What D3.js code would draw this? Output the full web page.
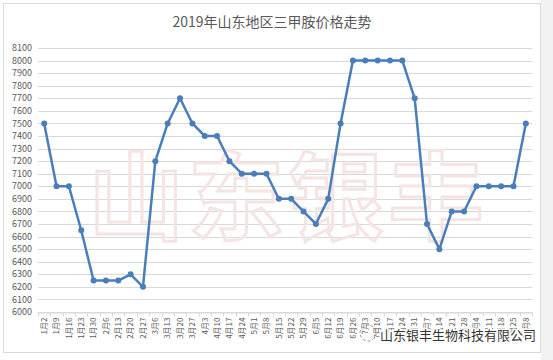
<!DOCTYPE html>
<html>
<head>
<meta charset="utf-8">
<script src="https://cdn.jsdelivr.net/npm/d3@7"></script>
<style>
  html, body { margin: 0; padding: 0; background: #fff; }
  svg { display: block; font-family: "Noto Sans CJK SC", "Microsoft YaHei", sans-serif; }
</style>
</head>
<body>
<div id="chart"></div>
<script>
var dates = ['1月2','1月9','1月16','1月23','1月30','2月6','2月13','2月20','2月27','3月6',
  '3月13','3月20','3月27','4月3','4月10','4月17','4月24','5月1','5月8','5月15',
  '5月22','5月29','6月5','6月12','6月19','6月26','7月3','7月10','7月17','7月24',
  '7月31','8月7','8月14','8月21','8月28','9月4','9月11','9月18','9月25','10月8'];
var prices = [7500,7000,7000,6650,6250,6250,6250,6300,6200,7200,
  7500,7700,7500,7400,7400,7200,7100,7100,7100,6900,
  6900,6800,6700,6900,7500,8000,8000,8000,8000,8000,
  7700,6700,6500,6800,6800,7000,7000,7000,7000,7500];
var yTicks = d3.range(6000, 8101, 100);

var W = 553, H = 360;
var margin = { top: 48, right: 19, bottom: 48, left: 38 };

var svg = d3.select('#chart').append('svg')
  .attr('width', W).attr('height', H);

// panel background
svg.append('rect').attr('x', 541).attr('y', 0).attr('width', 12).attr('height', H).attr('fill', '#f2f2f2');
svg.append('rect').attr('x', 3.5).attr('y', 3.5).attr('width', 537).attr('height', 349)
  .attr('fill', '#fff').attr('stroke', '#d9d9d9');

var x = d3.scaleBand().domain(dates).range([margin.left, W - margin.right - 2]);
var y = d3.scaleLinear().domain([6000, 8100]).range([312, margin.top]);

// gridlines
svg.append('g').selectAll('line').data(yTicks).join('line')
  .attr('x1', margin.left).attr('x2', W - margin.right - 2)
  .attr('y1', function (d) { return Math.round(y(d)) + 0.5; })
  .attr('y2', function (d) { return Math.round(y(d)) + 0.5; })
  .attr('stroke', '#d9d9d9');

// watermark
svg.append('text')
  .attr('x', 288).attr('y', 232)
  .attr('text-anchor', 'middle')
  .attr('font-size', 96)
  .attr('font-weight', 'bold')
  .attr('letter-spacing', 4)
  .attr('fill', 'none')
  .attr('stroke', '#f5e4e4')
  .attr('stroke-width', 3)
  .text('山东银丰');

// y axis labels
svg.append('g').selectAll('text').data(yTicks).join('text')
  .attr('x', 32).attr('y', function (d) { return y(d); })
  .attr('dy', '0.35em')
  .attr('text-anchor', 'end')
  .attr('font-size', 9)
  .attr('fill', '#595959')
  .text(function (d) { return d; });

// x axis
var xAxis = d3.axisBottom(x).tickSize(0).tickPadding(0);
var gx = svg.append('g').attr('transform', 'translate(0,' + (Math.round(y(6000)) + 0.5) + ')').call(xAxis);
gx.select('.domain').attr('stroke', '#d9d9d9');
gx.selectAll('.tick text')
  .attr('transform', 'translate(0,5) rotate(-90)')
  .attr('text-anchor', 'end')
  .attr('dy', '0.35em')
  .attr('x', 0).attr('y', 0)
  .attr('font-size', 8)
  .attr('font-family', '"Noto Sans CJK SC", sans-serif')
  .attr('fill', '#595959');
gx.selectAll('.bnd').data(dates.concat(['_end'])).join('line')
  .attr('class', 'bnd')
  .attr('x1', function (d, i) { return Math.round(margin.left + i * x.step()) + 0.5; })
  .attr('x2', function (d, i) { return Math.round(margin.left + i * x.step()) + 0.5; })
  .attr('y1', 0).attr('y2', 4)
  .attr('stroke', '#d9d9d9');

// line
var line = d3.line()
  .x(function (d, i) { return x(dates[i]) + x.bandwidth() / 2; })
  .y(function (d) { return y(d); });

svg.append('path').datum(prices)
  .attr('d', line)
  .attr('fill', 'none')
  .attr('stroke', '#4a7ebb')
  .attr('stroke-width', 2.5)
  .attr('stroke-linejoin', 'round');

svg.append('g').selectAll('circle').data(prices).join('circle')
  .attr('cx', function (d, i) { return x(dates[i]) + x.bandwidth() / 2; })
  .attr('cy', function (d) { return y(d); })
  .attr('r', 3)
  .attr('fill', '#4a7ebb');

// title
svg.append('text')
  .attr('x', 272).attr('y', 27)
  .attr('text-anchor', 'middle')
  .attr('font-size', 14)
  .attr('fill', '#595959')
  .text('2019年山东地区三甲胺价格走势');

// company mark at bottom right
svg.append('circle').attr('cx', 368).attr('cy', 333).attr('r', 8)
  .attr('fill', 'none').attr('stroke', '#999').attr('stroke-dasharray', '3,2');
svg.append('text')
  .attr('x', 380).attr('y', 340)
  .attr('font-size', 13)
  .attr('fill', '#333')
  .attr('stroke', '#fff').attr('stroke-width', 3).attr('paint-order', 'stroke')
  .text('山东银丰生物科技有限公司');
</script>
</body>
</html>
